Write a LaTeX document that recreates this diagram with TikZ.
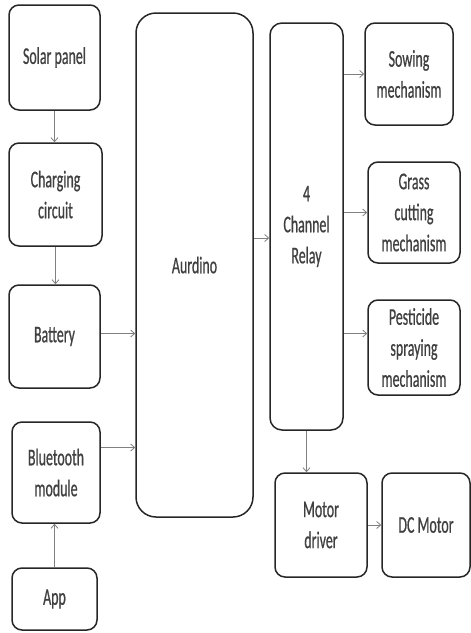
\documentclass[tikz,border=0pt]{standalone}
\usepackage{fontspec}
\setmainfont{Carlito}[FakeStretch=0.58,FakeBold=0.6]
\usetikzlibrary{positioning,arrows.meta}

\begin{document}
\begin{tikzpicture}[x=1pt,y=-1pt,font=\fontsize{24}{31}\selectfont]
  \tikzstyle{k}=[draw=black!85,text=black!75,line width=1.5pt,rounded corners=10pt,align=center,inner sep=2pt]
  \tikzstyle{a}=[draw=black!50,line width=0.8pt,-{Straight Barb[length=4pt,width=7pt]}]
  \useasboundingbox (0,0) rectangle (471,633);
  % left column
  \node[k,minimum width=91pt,minimum height=105pt] (sp) at (54.5,57.5) {Solar panel};
  \node[k,minimum width=93pt,minimum height=103pt] (cc) at (55.5,194.5) {Charging\\circuit};
  \node[k,minimum width=91pt,minimum height=103pt] (bat) at (54.5,336.5) {Battery};
  \node[k,minimum width=88pt,minimum height=101pt] (bt) at (56,472.5) {Bluetooth\\module};
  \node[k,minimum width=85pt,minimum height=62pt] (app) at (54.5,599) {App};
  % controller and relay
  \node[k,rounded corners=20pt,minimum width=117pt,minimum height=504pt] (ard) at (194.5,265) {Aurdino};
  \node[k,rounded corners=12pt,minimum width=73pt,minimum height=407pt] (rl) at (306.5,226.5) {4\\Channel\\Relay};
  % outputs
  \node[k,minimum width=88pt,minimum height=102pt] (sow) at (409,74) {Sowing\\mechanism};
  \node[k,minimum width=92pt,minimum height=101pt] (gc) at (414,212.5) {Grass\\cutting\\mechanism};
  \node[k,minimum width=92pt,minimum height=95pt] (ps) at (414,347.5) {Pesticide\\spraying\\mechanism};
  \node[k,minimum width=92pt,minimum height=104pt] (md) at (321,525) {Motor\\driver};
  \node[k,minimum width=88pt,minimum height=104pt] (dc) at (426,525) {DC Motor};
  % connectors
  \draw[a] (sp.south) -- (sp.south |- cc.north);
  \draw[a] (cc.south) -- (cc.south |- bat.north);
  \draw[a] ([yshift=3pt]bat.east) -- ([yshift=3pt]bat.east -| ard.west);
  \draw[a] ([yshift=25pt]bt.east) -- ([yshift=25pt]bt.east -| ard.west);
  \draw[a] (app.north) -- (app.north |- bt.south);
  \draw[a] ([yshift=27pt]ard.east) -- ([yshift=27pt]ard.east -| rl.west);
  \draw[a] (rl.east |- sow.west) -- (sow.west);
  \draw[a] (rl.east |- gc.west) -- (gc.west);
  \draw[a] ([yshift=14pt]rl.east |- ps.west) -- ([yshift=14pt]ps.west);
  \draw[a] (rl.south) -- (rl.south |- md.north);
  \draw[a] (md) -- (dc);
\end{tikzpicture}
\end{document}
